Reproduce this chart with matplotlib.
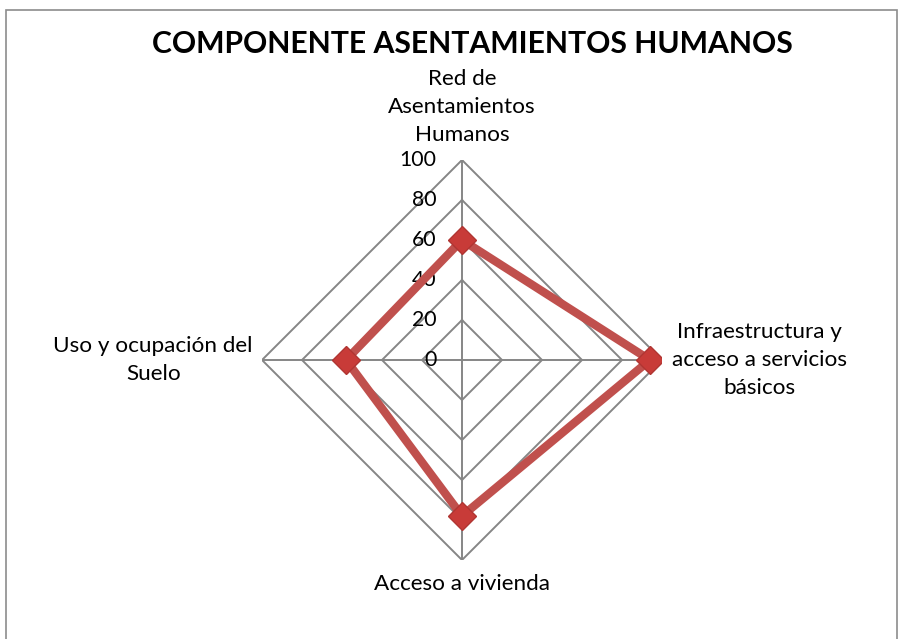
import numpy as np
import matplotlib
matplotlib.use("Agg")
import matplotlib.pyplot as plt
from matplotlib.patches import Rectangle

title = "COMPONENTE ASENTAMIENTOS HUMANOS"
categories = ["Red de\nAsentamientos\nHumanos",
              "Infraestructura y\nacceso a servicios\nbásicos",
              "Acceso a vivienda",
              "Uso y ocupación del\nSuelo"]
values = [60, 94, 78, 58]
rticks = [0, 20, 40, 60, 80, 100]

FONT = "Lato"
plt.rcParams["font.family"] = [FONT, "DejaVu Sans"]

fig = plt.figure(figsize=(9.02, 6.39), dpi=100)
W, H = 902, 639
cx, cy, R = 462, 360, 200
ax = fig.add_axes([(cx - R) / W, (H - cy - R) / H, 2 * R / W, 2 * R / H], projection="polar")
ax.set_theta_offset(np.pi / 2)
ax.set_theta_direction(-1)
ax.set_ylim(0, rticks[-1])
ax.grid(False)
ax.spines["polar"].set_visible(False)
ax.set_xticks([])
ax.set_yticks([])
ax.patch.set_alpha(0)

n = len(categories)
angles = np.arange(n) * 2 * np.pi / n
grid_color = "#868686"
for r in rticks[1:]:
    ax.plot(np.append(angles, angles[0]), [r] * (n + 1), color=grid_color, lw=1.4, zorder=1)
for a in angles:
    ax.plot([a, a], [0, rticks[-1]], color=grid_color, lw=1.4, zorder=1)

# radial tick labels
for r in rticks:
    ax.annotate(str(r), xy=(0, r), xytext=(-18.5, 0), textcoords="offset points",
                ha="right", va="center", fontsize=15.3, color="black", zorder=2)

# category labels
offsets = [(0, 11, "center", "bottom"), (7, 0, "left", "center"),
           (0, -10, "center", "top"), (-6.5, 0, "right", "center")]
for a, lab, (dx, dy, ha, va) in zip(angles, categories, offsets):
    ax.annotate(lab, xy=(a, rticks[-1]), xytext=(dx, dy), textcoords="offset points",
                ha=ha, va=va, multialignment="center", fontsize=16.2,
                linespacing=1.5, annotation_clip=False)

ax.plot(np.append(angles, angles[0]), values + values[:1], color="#C0504D", lw=6,
        solid_joinstyle="miter", zorder=3)
ax.plot(angles, values, linestyle="none", marker="D", markersize=14,
        markerfacecolor="#C83B38", markeredgecolor="#B03532", markeredgewidth=1, zorder=4)

fig.text(472 / W, 1 - 44 / H, title, ha="center", va="center",
         fontsize=21.7, fontweight="bold")

fig.patches.append(Rectangle((6 / W, -0.01), (897 - 6) / W, (H - 10) / H + 0.01,
                             transform=fig.transFigure, fill=False,
                             edgecolor="#8C8C8C", lw=1.2))

fig.savefig("out.png", dpi=100)
